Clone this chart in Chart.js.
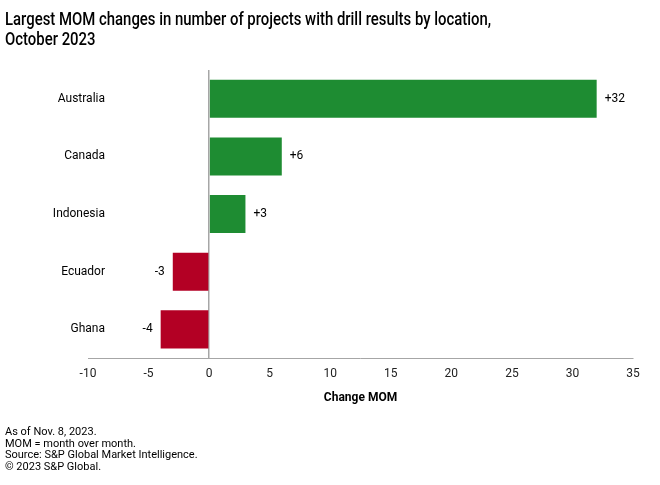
<!DOCTYPE html>
<html>
<head>
<meta charset="utf-8">
<script src="https://cdn.jsdelivr.net/npm/chart.js@4/dist/chart.umd.min.js"></script>
<style>
  html, body { margin: 0; padding: 0; background: #fff; }
  #wrap { position: relative; width: 660px; height: 485px; overflow: hidden; }
  #chart { position: absolute; left: 0; top: 0; }
  #title {
    position: absolute; left: 5px; top: 9px; width: 780px;
    font-family: Roboto, sans-serif;
    font-size: 18px; line-height: 20px; color: #000; font-weight: 500;
    transform: scaleX(0.828); transform-origin: left top;
  }
  #notes {
    position: absolute; left: 5px; top: 426px;
    font-family: Roboto, sans-serif;
    font-size: 11px; line-height: 11.5px; color: #000;
  }
</style>
</head>
<body>
<div id="wrap">
  <canvas id="chart" width="660" height="485"></canvas>
  <div id="title">Largest MOM changes in number of projects with drill results by location,<br>October 2023</div>
  <div id="notes">As of Nov. 8, 2023.<br>MOM = month over month.<br>Source: S&amp;P Global Market Intelligence.<br>&copy; 2023 S&amp;P Global.</div>
</div>
<script>
var locations = ['Australia', 'Canada', 'Indonesia', 'Ecuador', 'Ghana'];
var changes   = [32, 6, 3, -3, -4];
var xTicks    = [-10, -5, 0, 5, 10, 15, 20, 25, 30, 35];

var GREEN = '#1E8C32';
var RED   = '#B30024';
var FONT  = 'Roboto, sans-serif';

// category names drawn inside the left part of the plot, right aligned
var catLabels = {
  id: 'catLabels',
  afterDraw: function (chart) {
    var c = chart.ctx, y = chart.scales.y, area = chart.chartArea;
    c.save();
    c.font = '12px ' + FONT;
    c.fillStyle = '#000';
    c.textAlign = 'right';
    c.textBaseline = 'middle';
    locations.forEach(function (name, i) {
      c.fillText(name, area.left + 17, y.getPixelForValue(i));
    });
    c.restore();
  }
};

// +32 / -3 labels beside bar ends
var valueLabels = {
  id: 'valueLabels',
  afterDatasetsDraw: function (chart) {
    var c = chart.ctx, meta = chart.getDatasetMeta(0);
    c.save();
    c.font = '12px ' + FONT;
    c.fillStyle = '#000';
    c.textBaseline = 'middle';
    meta.data.forEach(function (bar, i) {
      var v = changes[i];
      if (v >= 0) {
        c.textAlign = 'left';
        c.fillText('+' + v, bar.x + 8, bar.y);
      } else {
        c.textAlign = 'right';
        c.fillText(String(v), bar.x - 8, bar.y);
      }
    });
    c.restore();
  }
};

new Chart(document.getElementById('chart'), {
  type: 'bar',
  plugins: [catLabels, valueLabels],
  data: {
    labels: locations,
    datasets: [{
      data: changes,
      backgroundColor: changes.map(function (v) { return v >= 0 ? GREEN : RED; }),
      borderWidth: 0,
      categoryPercentage: 1,
      barPercentage: 0.66
    }]
  },
  options: {
    indexAxis: 'y',
    responsive: false,
    animation: false,
    layout: { padding: { left: 80, right: 27, top: 70, bottom: 80 } },
    plugins: { legend: { display: false }, tooltip: { enabled: false } },
    scales: {
      x: {
        min: -10,
        max: 35,
        afterBuildTicks: function (axis) {
          axis.ticks = xTicks.map(function (v) { return { value: v }; });
        },
        grid: {
          drawTicks: false,
          color: function (ctx) { return ctx.tick && ctx.tick.value === 0 ? '#A6A6A6' : 'transparent'; },
          lineWidth: 1.5
        },
        border: { color: '#A6A6A6', width: 1 },
        ticks: {
          color: '#222',
          padding: 9,
          maxRotation: 0,
          font: { family: FONT, size: 12 }
        },
        title: {
          display: true,
          text: 'Change MOM',
          color: '#000',
          padding: { top: 0, bottom: 0 },
          font: { family: FONT, size: 12, weight: 'bold' }
        }
      },
      y: {
        ticks: { display: false },
        grid: { display: false },
        border: { display: false }
      }
    }
  }
});
</script>
</body>
</html>
